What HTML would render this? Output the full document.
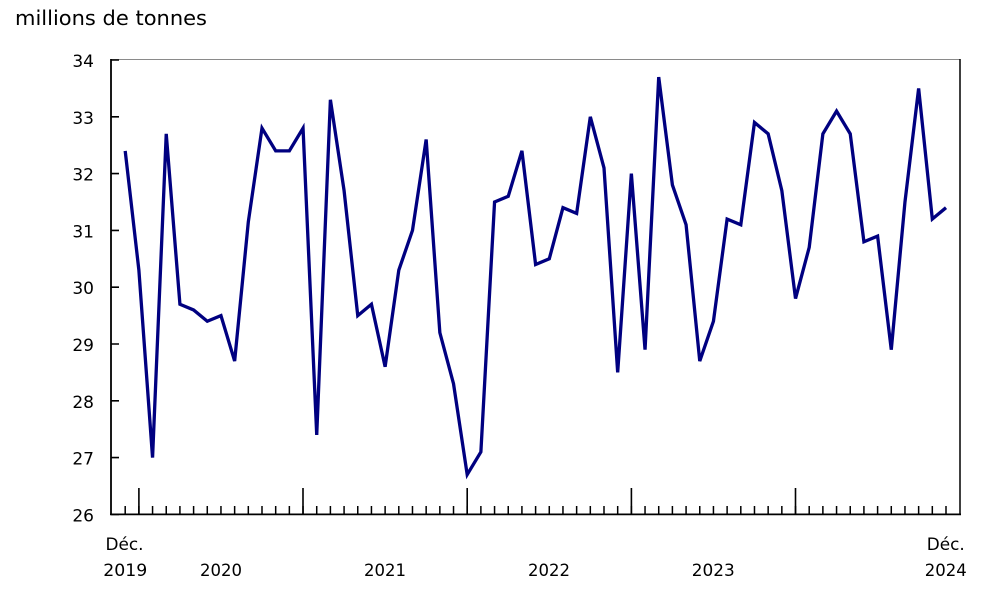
<!DOCTYPE html>
<html>
<head>
<meta charset="utf-8">
<style>
html,body{margin:0;padding:0;background:#fff;}
svg{display:block;}
text{font-family:"DejaVu Sans","Liberation Sans",sans-serif;fill:#000;}
</style>
</head>
<body>
<svg width="1006" height="590" viewBox="0 0 1006 590" xmlns="http://www.w3.org/2000/svg">
<rect width="1006" height="590" fill="#fff"/>
<text x="15" y="25" font-size="20.5" textLength="192" lengthAdjust="spacingAndGlyphs">millions de tonnes</text>

<!-- frame -->
<line x1="111" y1="59.5" x2="960" y2="59.5" stroke="#8a8a8a" stroke-width="1"/>
<line x1="960" y1="59" x2="960" y2="515" stroke="#000" stroke-width="1.5"/>
<line x1="111" y1="59" x2="111" y2="515" stroke="#000" stroke-width="1.8"/>
<line x1="110" y1="514.4" x2="961" y2="514.4" stroke="#000" stroke-width="1.8"/>

<!-- y ticks -->
<path d="M111 60H119M111 116.8H119M111 173.6H119M111 230.4H119M111 287.2H119M111 344H119M111 400.8H119M111 457.6H119M111 514.4H119" stroke="#000" stroke-width="1.6" fill="none"/>

<!-- y labels -->
<g font-size="17" text-anchor="end">
<text x="94" y="67">34</text>
<text x="94" y="123.8">33</text>
<text x="94" y="180.6">32</text>
<text x="94" y="237.4">31</text>
<text x="94" y="294.2">30</text>
<text x="94" y="351">29</text>
<text x="94" y="407.8">28</text>
<text x="94" y="464.6">27</text>
<text x="94" y="521.4">26</text>
</g>

<!-- minor x ticks -->
<line x1="124.45" y1="510" x2="947.5" y2="510" stroke="#000" stroke-width="8" stroke-dasharray="1.5 12.18"/>
<!-- major x ticks -->
<path d="M138.9 488V514M303 488V514M467.2 488V514M631.4 488V514M795.5 488V514" stroke="#000" stroke-width="1.6" fill="none"/>

<!-- x labels -->
<g font-size="17" text-anchor="middle">
<text x="124.5" y="550" textLength="38" lengthAdjust="spacingAndGlyphs">Déc.</text>
<text x="125.3" y="576" textLength="44" lengthAdjust="spacingAndGlyphs">2019</text>
<text x="221" y="576" textLength="42" lengthAdjust="spacingAndGlyphs">2020</text>
<text x="385" y="576" textLength="42" lengthAdjust="spacingAndGlyphs">2021</text>
<text x="549" y="576" textLength="42" lengthAdjust="spacingAndGlyphs">2022</text>
<text x="713.3" y="576" textLength="43" lengthAdjust="spacingAndGlyphs">2023</text>
<text x="945.8" y="550" textLength="38" lengthAdjust="spacingAndGlyphs">Déc.</text>
<text x="945.8" y="576" textLength="42" lengthAdjust="spacingAndGlyphs">2024</text>
</g>

<!-- series -->
<g transform="translate(125.2,60) scale(13.68,56.8)">
<polyline fill="none" stroke="#000080" stroke-width="3.3" stroke-linejoin="miter" vector-effect="non-scaling-stroke"
points="0,1.6 1,3.7 2,7.0 3,1.3 4,4.3 5,4.4 6,4.6 7,4.5 8,5.3 9,2.85 10,1.2 11,1.6 12,1.6 13,1.2 14,6.6 15,0.7 16,2.3 17,4.5 18,4.3 19,5.4 20,3.7 21,3.0 22,1.4 23,4.8 24,5.7 25,7.3 26,6.9 27,2.5 28,2.4 29,1.6 30,3.6 31,3.5 32,2.6 33,2.7 34,1.0 35,1.9 36,5.5 37,2.0 38,5.1 39,0.3 40,2.2 41,2.9 42,5.3 43,4.6 44,2.8 45,2.9 46,1.1 47,1.3 48,2.3 49,4.2 50,3.3 51,1.3 52,0.9 53,1.3 54,3.2 55,3.1 56,5.1 57,2.5 58,0.5 59,2.8 60,2.6"/>
</g>
</svg>
</body>
</html>
